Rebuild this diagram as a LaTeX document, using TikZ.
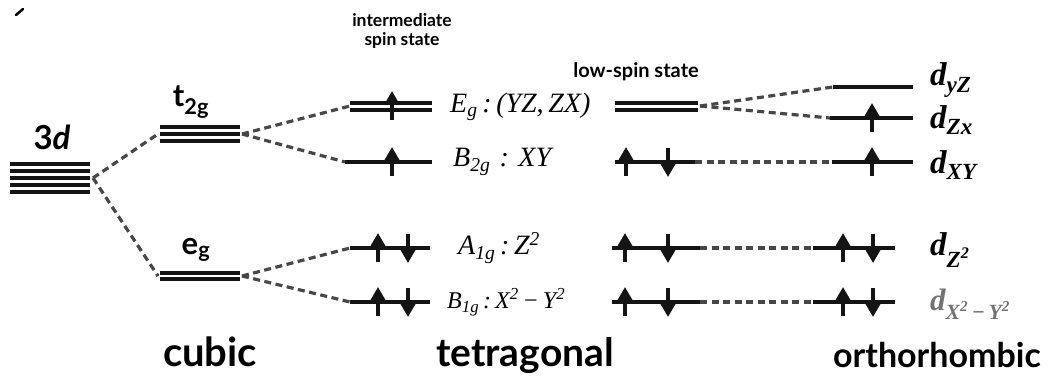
\documentclass[tikz,border=0pt]{standalone}
\usepackage{fontspec}
\setmainfont{Liberation Serif}
\newfontfamily\gsans{Lato}
\usetikzlibrary{arrows.meta}
\tikzset{
  lvl/.style={line width=3.4pt, draw=black!92},
  conn/.style={line width=3.2pt, draw=black!72, dash pattern=on 7pt off 4.5pt},
  spin/.style={line width=4pt, draw=black!92, -{Triangle[width=14pt,length=13pt]}},
  captxt/.style={font=\gsans\bfseries\fontsize{40}{42}\selectfont, inner sep=0pt, anchor=base},
  sym/.style={font=\gsans\bfseries\fontsize{31}{33}\selectfont, inner sep=0pt},
  head/.style={font=\gsans\bfseries\fontsize{17.5}{18.5}\selectfont, inner sep=0pt, align=center},
  tlab/.style={font=\itshape\fontsize{28}{30}\selectfont, inner sep=0pt, anchor=west},
  olab/.style={font=\bfseries\itshape\fontsize{33}{35}\selectfont, inner sep=0pt, anchor=west},
}
\newcommand\mklev[4]{%
  \coordinate (#1L) at (#2,#4); \coordinate (#1R) at (#3,#4);
  \draw[lvl] (#1L) -- (#1R);}
\newcommand\spinup[2]{\draw[spin] (#1,#2+14) -- (#1,#2-15);}
\newcommand\spindn[2]{\draw[spin] (#1,#2-14) -- (#1,#2+15);}
\begin{document}
\begin{tikzpicture}[x=1pt,y=-1pt]
\useasboundingbox (0,0) rectangle (1048,377);
% stray mark
\draw[line width=2.5pt, line cap=round] (23,9) -- (16,15);
% ---- 3d ----
\foreach \yy in {164,171,178,185,192} \draw[lvl] (10,\yy) -- (90,\yy);
\coordinate (d3R) at (93,178);
\node[sym, font=\gsans\bfseries\fontsize{33}{35}\selectfont] (l3d) at (52,137) {3\textit{d}};
% ---- cubic ----
\foreach \yy in {127,134,141} \draw[lvl] (160,\yy) -- (240,\yy);
\coordinate (t2gL) at (158,134); \coordinate (t2gR) at (242,134);
\foreach \yy in {273,279} \draw[lvl] (160,\yy) -- (240,\yy);
\coordinate (egL) at (158,276); \coordinate (egR) at (242,276);
\node[sym] (lt2g) at (191,102) {t\textsubscript{2g}};
\node[sym] (leg) at (196,250) {e\textsubscript{g}};
\node[captxt] (lcub) at (210,366) {cubic};
% ---- tetragonal, intermediate spin ----
\node[head] (hint) at (402,31) {intermediate\\spin state};
\foreach \yy in {103,110} \draw[lvl] (350,\yy) -- (432,\yy);
\coordinate (iEL) at (350,106);
\spinup{392}{106}
\mklev{iB}{345}{432}{162} \spinup{392}{162}
\mklev{iA}{350}{430}{248} \spinup{378}{248} \spindn{408}{248}
\mklev{iBB}{350}{430}{302} \spinup{378}{302} \spindn{408}{302}
\node[tlab] (tE) at (450,107) {E\textsubscript{\itshape g}\,:\,(YZ,\,ZX)};
\node[tlab] (tB2) at (453,162) {B\textsubscript{\itshape 2g}\,\,:\,\,XY};
\node[tlab] (tA1) at (458,248) {A\textsubscript{\itshape 1g}\,:\,Z\textsuperscript{2}};
\node[tlab, font=\itshape\fontsize{24}{26}\selectfont] (tB1) at (447,302) {B\textsubscript{\itshape 1g}\,:\,X\textsuperscript{2}\,−\,Y\textsuperscript{2}};
% ---- tetragonal, low spin ----
\node[head, font=\gsans\bfseries\fontsize{20}{22}\selectfont] (hlow) at (636,72) {low-spin state};
\foreach \yy in {103,110} \draw[lvl] (615,\yy) -- (698,\yy);
\coordinate (lER) at (700,106);
\mklev{lB}{615}{695}{162} \spinup{626}{162} \spindn{668}{162}
\mklev{lA}{612}{700}{248} \spinup{625}{248} \spindn{668}{248}
\mklev{lBB}{612}{700}{302} \spinup{625}{302} \spindn{668}{302}
\node[captxt, font=\gsans\bfseries\fontsize{39}{41}\selectfont] (ltet) at (525,366) {tetragonal};
% ---- orthorhombic ----
\mklev{oYZ}{833}{913}{87}
\mklev{oZX}{830}{913}{118} \spinup{872}{118}
\mklev{oXY}{832}{913}{162} \spinup{872}{162}
\mklev{oZ}{813}{895}{248} \spinup{843}{248} \spindn{873}{248}
\mklev{oX}{813}{895}{302} \spinup{843}{302} \spindn{873}{302}
\node[olab] (dyz) at (930,80) {d\textsubscript{yZ}};
\node[olab] (dzx) at (930,120) {d\textsubscript{Zx}};
\node[olab] (dxy) at (930,165) {d\textsubscript{XY}};
\node[olab] (dz2) at (930,250) {d\textsubscript{Z\textsuperscript{2}}};
\node[olab, text=black!55, font=\bfseries\itshape\fontsize{31}{33}\selectfont] (dx2) at (930,304) {d\textsubscript{X\textsuperscript{2}\,−\,Y\textsuperscript{2}}};
\node[captxt, font=\gsans\bfseries\fontsize{34}{36}\selectfont] (lort) at (937,367) {orthorhombic};
% ---- connectors ----
\draw[conn] (d3R) -- (t2gL);
\draw[conn] (d3R) -- (egL);
\draw[conn] (t2gR) -- (iEL);
\draw[conn] (t2gR) -- (iBL);
\draw[conn] (egR) -- (iAL);
\draw[conn] (egR) -- (iBBL);
\draw[conn] (lER) -- (oYZL);
\draw[conn] (lER) -- (oZXL);
\draw[conn] (lBR) -- (oXYL);
\draw[conn] (lAR) -- (oZL);
\draw[conn] (lBBR) -- (oXL);
\end{tikzpicture}
\end{document}
